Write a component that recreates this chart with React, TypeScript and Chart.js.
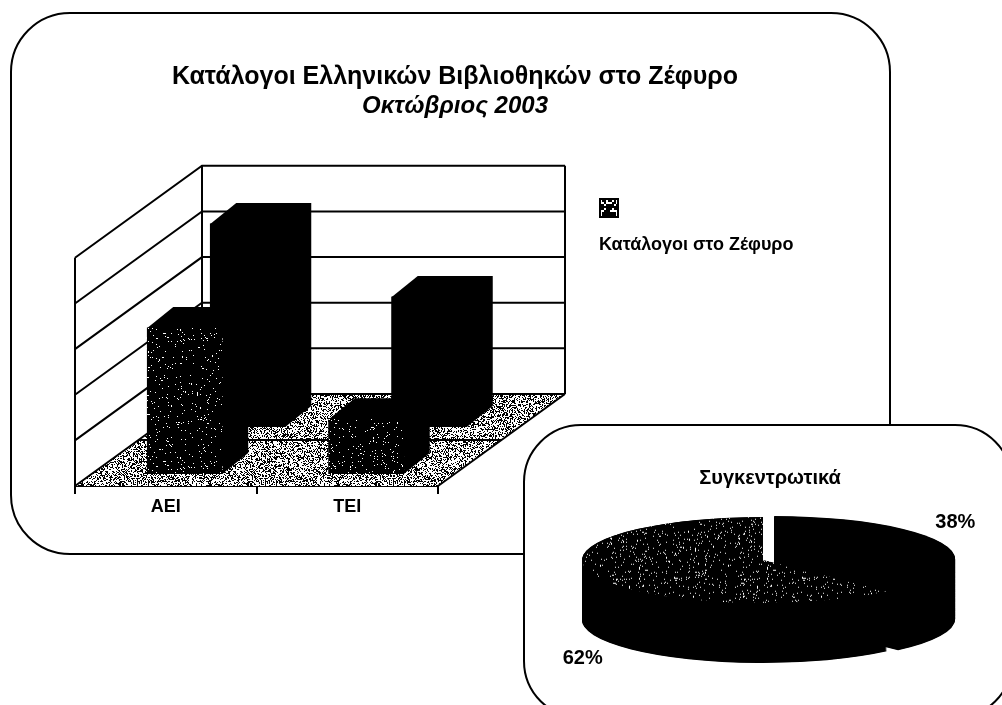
import React, { useEffect, useRef } from "react";
import { Chart, registerables } from "chart.js";

Chart.register(...registerables);

const categories = ["ΑΕΙ", "ΤΕΙ"];
const frontSeries = [32, 12];
const backSeries = [44.5, 28.5];
const legendLabel = "Κατάλογοι στο Ζέφυρο";
const titleLine = "Κατάλογοι Ελληνικών Βιβλιοθηκών στο Ζέφυρο";
const subtitleLine = "Οκτώβριος 2003";
const pieTitle = "Συγκεντρωτικά";
const pieLabels = ["38%", "62%"];
const pieValues = [38, 62];

const SANS = '"Liberation Sans", Arial, sans-serif';

function speckle(size: number, density: number, ink: string, paper: string, grain: number) {
  const c = document.createElement("canvas");
  c.width = size;
  c.height = size;
  const g = c.getContext("2d")!;
  g.fillStyle = paper;
  g.fillRect(0, 0, size, size);
  g.fillStyle = ink;
  for (let y = 0; y < size; y += grain) {
    for (let x = 0; x < size; x += grain) {
      let h = Math.imul(x + 1, 73856093) ^ Math.imul(y + 1, 19349663);
      h = Math.imul(h ^ (h >>> 13), 1274126177);
      h = Math.imul(h ^ (h >>> 15), 2246822519);
      h = (h ^ (h >>> 16)) >>> 0;
      if ((h & 1023) / 1024 < density) g.fillRect(x, y, grain, grain);
    }
  }
  return g.createPattern(c, "repeat")!;
}

const DEPTH_X = 127;
const DEPTH_Y = -92;
const BAR_DX = 26;
const BAR_DY = -21;
const SHIFTS = [
  [19, -12],
  [82, -59],
];

const wallsPlugin = {
  id: "walls",
  beforeDatasetsDraw(chart: any) {
    const { ctx, chartArea, scales } = chart;
    const { left, right } = chartArea;
    const y = scales.y;
    const y0 = y.getPixelForValue(0);
    ctx.save();
    ctx.fillStyle = chart.$floor;
    ctx.beginPath();
    ctx.moveTo(left, y0);
    ctx.lineTo(right, y0);
    ctx.lineTo(right + DEPTH_X, y0 + DEPTH_Y);
    ctx.lineTo(left + DEPTH_X, y0 + DEPTH_Y);
    ctx.closePath();
    ctx.fill();
    ctx.strokeStyle = "#000";
    ctx.lineWidth = 2;
    ctx.beginPath();
    y.ticks.forEach((t: any) => {
      const p = y.getPixelForValue(t.value);
      ctx.moveTo(left, p);
      ctx.lineTo(left + DEPTH_X, p + DEPTH_Y);
      ctx.lineTo(right + DEPTH_X, p + DEPTH_Y);
    });
    const top = y.getPixelForValue(y.max);
    ctx.moveTo(left, y0);
    ctx.lineTo(left, top);
    ctx.moveTo(left + DEPTH_X, y0 + DEPTH_Y);
    ctx.lineTo(left + DEPTH_X, top + DEPTH_Y);
    ctx.moveTo(right + DEPTH_X, y0 + DEPTH_Y);
    ctx.lineTo(right + DEPTH_X, top + DEPTH_Y);
    ctx.moveTo(right, y0);
    ctx.lineTo(right + DEPTH_X, y0 + DEPTH_Y);
    ctx.moveTo(left + DEPTH_X / 2, y0 + DEPTH_Y / 2);
    ctx.lineTo(right + DEPTH_X / 2, y0 + DEPTH_Y / 2);
    ctx.stroke();
    ctx.restore();
  },
  beforeDatasetDraw(chart: any, args: any) {
    const { ctx } = chart;
    const [sx, sy] = SHIFTS[args.index];
    ctx.save();
    ctx.translate(sx, sy);
    ctx.fillStyle = "#000";
    args.meta.data.forEach((bar: any) => {
      const l = bar.x - bar.width / 2;
      const r = bar.x + bar.width / 2;
      ctx.fillRect(l, bar.y, bar.width, bar.base - bar.y);
      ctx.beginPath();
      ctx.moveTo(l, bar.y);
      ctx.lineTo(l + BAR_DX, bar.y + BAR_DY);
      ctx.lineTo(r + BAR_DX, bar.y + BAR_DY);
      ctx.lineTo(r + BAR_DX, bar.base + BAR_DY);
      ctx.lineTo(r, bar.base);
      ctx.lineTo(l, bar.base);
      ctx.closePath();
      ctx.fill();
    });
  },
  afterDatasetDraw(chart: any) {
    chart.ctx.restore();
  },
  afterDraw(chart: any) {
    const { ctx } = chart;
    ctx.save();
    ctx.fillStyle = chart.$swatch;
    ctx.fillRect(600, 199, 18, 18);
    ctx.strokeStyle = "#000";
    ctx.lineWidth = 2;
    ctx.strokeRect(600, 199, 18, 18);
    ctx.fillStyle = "#000";
    ctx.font = `bold 18px ${SANS}`;
    ctx.textBaseline = "middle";
    ctx.fillText(chart.data.datasets[0].label, 599, 245);
    ctx.restore();
  },
};

const SQUASH = 43 / 181;
const THICK = 60;
const PIE_SHIFT = -7;
const LABEL_NUDGE = [
  [17, -22],
  [-19, 83],
];

const piePlugin = {
  id: "pie3d",
  beforeDatasetDraw(chart: any, args: any) {
    const { ctx } = chart;
    const arcs = args.meta.data;
    const cy = arcs[0].y;
    ctx.save();
    ctx.translate(PIE_SHIFT, cy);
    ctx.scale(1, SQUASH);
    ctx.translate(0, -cy);
    ctx.fillStyle = "#000";
    arcs.forEach((a: any) => {
      const mid = (a.startAngle + a.endAngle) / 2;
      const off = (a.options.offset || 0) / 4;
      const ax = a.x + Math.cos(mid) * off;
      const ay = a.y + Math.sin(mid) * off;
      for (let k = THICK / SQUASH; k > 0; k -= 2) {
        ctx.beginPath();
        ctx.moveTo(ax, ay + k);
        ctx.arc(ax, ay + k, a.outerRadius, a.startAngle, a.endAngle);
        ctx.closePath();
        ctx.fill();
      }
      // the library widens an exploded slice by its offset; keep the rim equal
      a.$radius = a.outerRadius;
      a.outerRadius -= off;
    });
  },
  afterDatasetDraw(chart: any, args: any) {
    args.meta.data.forEach((a: any) => {
      a.outerRadius = a.$radius;
    });
    chart.ctx.restore();
  },
  afterDraw(chart: any) {
    const { ctx } = chart;
    const arcs = chart.getDatasetMeta(0).data;
    ctx.save();
    ctx.fillStyle = "#000";
    ctx.font = `bold 20px ${SANS}`;
    ctx.textAlign = "center";
    ctx.textBaseline = "middle";
    arcs.forEach((a: any, i: number) => {
      const mid = (a.startAngle + a.endAngle) / 2;
      const x = a.x + Math.cos(mid) * a.outerRadius + LABEL_NUDGE[i][0];
      const y = a.y + Math.sin(mid) * a.outerRadius * SQUASH + LABEL_NUDGE[i][1];
      ctx.fillText(pieLabels[i], x, y);
    });
    ctx.restore();
  },
};

export default function App() {
  const barRef = useRef<HTMLCanvasElement>(null);
  const pieRef = useRef<HTMLCanvasElement>(null);

  useEffect(() => {
    const facePattern = speckle(128, 0.035, "#fff", "#000", 1);
    const piePattern = speckle(128, 0.05, "#fff", "#000", 1);
    (piePattern as any).setTransform(new DOMMatrix().scale(1, 1 / SQUASH));

    const bar: any = new Chart(barRef.current!, {
      type: "bar",
      data: {
        labels: categories,
        datasets: [
          { label: legendLabel, data: frontSeries, backgroundColor: facePattern, grouped: false, barThickness: 75 } as any,
          { label: legendLabel, data: backSeries, backgroundColor: "#000", grouped: false, barThickness: 75 } as any,
        ],
      },
      options: {
        responsive: false,
        animation: false,
        layout: { padding: { left: 0, right: 0, top: 62, bottom: 179 } },
        plugins: {
          legend: { display: false },
          tooltip: { enabled: false },
          title: {
            display: true,
            text: titleLine,
            color: "#000",
            font: { family: SANS, size: 25, weight: "bold" },
            padding: { top: 0, bottom: 0 },
          },
          subtitle: {
            display: true,
            text: subtitleLine,
            color: "#000",
            font: { family: SANS, size: 24, weight: "bold", style: "italic" },
            padding: { top: 0, bottom: 137 },
          },
        },
        scales: {
          x: {
            afterFit: (s: any) => {
              s.height = 40;
            },
            border: { color: "#000", width: 2 },
            grid: { drawOnChartArea: false, drawTicks: true, tickLength: 8, color: "#000", lineWidth: 2, offset: true },
            ticks: { color: "#000", padding: 2, font: { family: SANS, size: 18, weight: "bold" } },
          },
          y: {
            position: "left",
            min: 0,
            max: 50,
            afterFit: (s: any) => {
              s.width = 75;
            },
            border: { display: false },
            grid: { display: false },
            ticks: { display: false, stepSize: 10 },
          },
          y1: {
            position: "right",
            min: 0,
            max: 50,
            afterFit: (s: any) => {
              s.width = 472;
            },
            border: { display: false },
            grid: { display: false },
            ticks: { display: false, stepSize: 10 },
          },
        },
      } as any,
      plugins: [wallsPlugin],
    } as any);
    bar.$floor = speckle(128, 0.4, "#000", "#fff", 1);
    bar.$swatch = speckle(16, 0.25, "#fff", "#000", 2);
    bar.update();

    const pie = new Chart(pieRef.current!, {
      type: "pie",
      data: {
        labels: pieLabels,
        datasets: [
          {
            data: pieValues,
            backgroundColor: ["#000", piePattern],
            borderWidth: 0,
            offset: [48, 0],
            radius: 181,
          } as any,
        ],
      },
      options: {
        responsive: false,
        animation: false,
        layout: { padding: { left: 0, right: 0, top: 42, bottom: 83 } },
        plugins: {
          legend: { display: false },
          tooltip: { enabled: false },
          title: {
            display: true,
            text: pieTitle,
            color: "#000",
            font: { family: SANS, size: 20, weight: "bold" },
            padding: { top: 0, bottom: 8 },
          },
        },
      } as any,
      plugins: [piePlugin],
    } as any);

    return () => {
      bar.destroy();
      pie.destroy();
    };
  }, []);

  const frame = (style: React.CSSProperties): React.CSSProperties => ({
    position: "absolute",
    boxSizing: "border-box",
    border: "2px solid #000",
    background: "#fff",
    ...style,
  });

  return (
    <div style={{ position: "absolute", left: 0, top: 0, width: 1002, height: 705, overflow: "hidden", background: "#fff" }}>
      <div style={frame({ left: 10, top: 12, width: 881, height: 543, borderRadius: 60 })} />
      <canvas ref={barRef} width={910} height={705} style={{ position: "absolute", left: 0, top: 0, display: "block" }} />
      <div style={frame({ left: 523, top: 424, width: 490, height: 295, borderRadius: 58 })} />
      <canvas ref={pieRef} width={492} height={281} style={{ position: "absolute", left: 524, top: 424, display: "block" }} />
    </div>
  );
}
